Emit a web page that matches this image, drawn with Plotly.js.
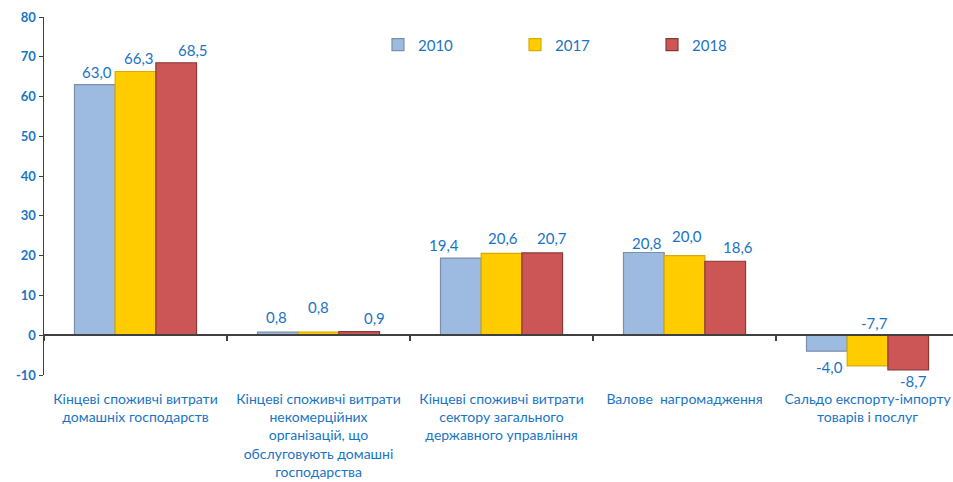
<!DOCTYPE html>
<html><head><meta charset="utf-8">
<script src="https://cdn.plot.ly/plotly-3.0.1.min.js"></script>
<style>html,body{margin:0;padding:0;background:#fff}#chart{width:953px;height:482px}</style>
</head><body><div id="chart"></div>
<script>
const categories = [
  "Кінцеві споживчі витрати<br>домашніх господарств",
  "Кінцеві споживчі витрати<br>некомерційних<br>організацій, що<br>обслуговують домашні<br>господарства",
  "Кінцеві споживчі витрати<br>сектору загального<br>державного управління",
  "Валове\u00a0 нагромадження",
  "Сальдо експорту-імпорту<br>товарів і послуг"
];
const seriesNames = ["2010", "2017", "2018"];
const values2010 = [63.0, 0.8, 19.4, 20.8, -4.0];
const values2017 = [66.3, 0.8, 20.6, 20.0, -7.7];
const values2018 = [68.5, 0.9, 20.7, 18.6, -8.7];
const yTicks = [-10, 0, 10, 20, 30, 40, 50, 60, 70, 80];
const yTickText = ["-10", "0", "10", "20", "30", "40", "50", "60", "70", "80"];

const allValues = [values2010, values2017, values2018];
const fills = ["#9dbbe1", "#ffcc00", "#cc5656"];
const borders = ["#7d8fa8", "#d9ab00", "#8c3636"];
const blue = "#1a74c4";
const font = "Lato, 'Noto Sans', sans-serif";

// label offsets [dx, dy] in px relative to bar end, per series then category (style only)
const labelOffsets = [
  [[2,13],[-1,15],[-17,13],[3,9],[3,-16]],
  [[3,14],[0,25],[1,15],[2,20],[7,43]],
  [[17,13],[15,14],[10,15],[13,14],[5,-11]]
];

const bargap = 0.333;
const bw = (1 - bargap) / 3;

const traces = allValues.map((vals, s) => ({
  type: "bar",
  name: seriesNames[s],
  x: categories,
  y: vals,
  marker: {color: fills[s], line: {color: borders[s], width: 1.2}},
  hoverinfo: "skip"
}));

const annotations = [];
allValues.forEach((vals, s) => {
  vals.forEach((v, i) => {
    const off = labelOffsets[s][i] || [0, v >= 0 ? 14 : -14];
    annotations.push({
      xref: "x", yref: "y",
      x: i + (s - 1) * bw, y: v,
      text: v.toFixed(1).replace(".", ","),
      showarrow: false,
      xanchor: "center", yanchor: "middle",
      xshift: off[0], yshift: off[1],
      font: {family: font, size: 15, color: blue}
    });
  });
});

const yr = [-10, 80];
const zeroPos = (0 - yr[0]) / (yr[1] - yr[0]);

const layout = {
  width: 953, height: 482,
  margin: {l: 44, r: 0, t: 17, b: 107},
  paper_bgcolor: "#fff", plot_bgcolor: "#fff",
  barmode: "group", bargap: bargap, bargroupgap: 0,
  showlegend: true,
  legend: {
    orientation: "h", x: (378 - 44) / 909, xanchor: "left",
    y: 0.922, yanchor: "middle",
    entrywidth: 92, entrywidthmode: "pixels",
    font: {family: font, size: 15, color: blue},
    bgcolor: "rgba(0,0,0,0)"
  },
  xaxis: {
    type: "category",
    range: [-0.5, 4.467],
    anchor: "free", position: zeroPos,
    showline: true, linecolor: "#404040", linewidth: 2,
    ticks: "outside", tickson: "boundaries", ticklen: 5, tickcolor: "#404040", tickwidth: 1.5,
    ticklabelstandoff: 51,
    tickfont: {family: font, size: 14, color: blue},
    showgrid: false, zeroline: false, fixedrange: true
  },
  yaxis: {
    range: yr, tickvals: yTicks, ticktext: yTickText,
    showline: true, linecolor: "#404040", linewidth: 1.5,
    ticks: "outside", ticklen: 4, tickcolor: "#404040",
    tickfont: {family: font, size: 13, color: blue, weight: "bold"},
    showgrid: false, zeroline: false, fixedrange: true
  },
  annotations: annotations
};

Plotly.newPlot("chart", traces, layout, {displayModeBar: false, staticPlot: true});
</script></body></html>
